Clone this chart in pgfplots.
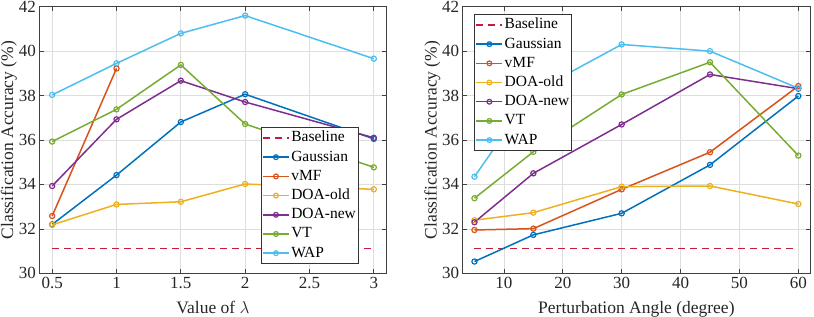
\documentclass[border=0pt]{standalone}
\usepackage{fontspec}
\setmainfont{Liberation Serif}
\usepackage{pgfplots}
\pgfplotsset{compat=1.18}
\definecolor{cB}{rgb}{0.76,0.11,0.24}
\definecolor{cG}{rgb}{0,0.447,0.741}
\definecolor{cV}{rgb}{0.85,0.325,0.098}
\definecolor{cO}{rgb}{0.929,0.694,0.125}
\definecolor{cN}{rgb}{0.494,0.184,0.556}
\definecolor{cT}{rgb}{0.466,0.674,0.188}
\definecolor{cW}{rgb}{0.301,0.745,0.933}
\pgfplotsset{mystyle/.style={
  scale only axis, width=347.4pt, height=266.6pt,
  ymin=30, ymax=42, ytick={30,32,...,42},
  grid=major, major grid style={black!13, line width=0.7pt},
  axis line style={black!75, line width=0.9pt},
  tick align=inside, tick style={black!75, line width=0.7pt}, major tick length=4.5pt,
  font=\fontsize{17}{20}\selectfont,
  tick label style={font=\fontsize{17}{20}\selectfont, text=black!85},
  label style={text=black!85, font=\fontsize{17.5}{20}\selectfont},
  /pgf/number format/assume math mode=true,
  ylabel={Classification Accuracy (\%)},
  ylabel style={at={(axis description cs:-0.0875,0.5)}, anchor=center},
  xlabel style={at={(axis description cs:0.5,-0.1515)}, anchor=base},
  every axis plot/.append style={line width=1.5pt, mark=o, mark size=2.6pt, mark options={solid, line width=1.2pt}},
  legend cell align=left,
  legend image code/.code={\draw[line width=1.5pt, mark size=2.4pt, mark repeat=2,mark phase=2,##1] plot coordinates {(0pt,0pt) (13pt,0pt) (26pt,0pt)};},
  legend style={draw=black!80, line width=0.9pt, fill=white, inner sep=1pt,
    font=\fontsize{15.5}{18}\selectfont,
    nodes={inner sep=1.6pt, text height=12pt, text depth=4pt}},
}}
\begin{document}
\begin{tikzpicture}
\useasboundingbox (0pt,0pt) rectangle (814pt,-316pt);
\begin{axis}[mystyle, at={(39.3pt,-273.3pt)}, anchor=south west,
  xmin=0.4, xmax=3.1, xtick={0.5,1,1.5,2,2.5,3},
  xticklabels={0.5,1,1.5,2,2.5,3},
  xlabel={Value of $\lambda$},
  legend style={at={(0.920,0.034)}, anchor=south east}]
\addplot[cB, line width=1.3pt, dash pattern=on 7pt off 5pt, mark=none] coordinates {(0.5,31.12) (3,31.12)};
\addplot[cG] coordinates {(0.5,32.2) (1,34.42) (1.5,36.81) (2,38.06) (3,36.05)};
\addplot[cV] coordinates {(0.5,32.58) (1,39.22)};
\addplot[cO] coordinates {(0.5,32.18) (1,33.1) (1.5,33.22) (2,34.02) (3,33.78)};
\addplot[cN] coordinates {(0.5,33.93) (1,36.93) (1.5,38.67) (2,37.71) (3,36.1)};
\addplot[cT] coordinates {(0.5,35.93) (1,37.38) (1.5,39.38) (2,36.72) (3,34.77)};
\addplot[cW] coordinates {(0.5,38.03) (1,39.45) (1.5,40.8) (2,41.6) (3,39.66)};
\legend{Baseline,Gaussian,vMF,DOA-old,DOA-new,VT,WAP}
\end{axis}
\begin{axis}[mystyle, at={(462.7pt,-273.3pt)}, anchor=south west,
  xmin=3, xmax=62, xtick={10,20,...,60},
  xlabel={Perturbation Angle (degree)},
  legend style={at={(0.033,0.973)}, anchor=north west}]
\addplot[cB, line width=1.3pt, dash pattern=on 7pt off 5pt, mark=none] coordinates {(5,31.12) (60,31.12)};
\addplot[cG] coordinates {(5,30.53) (15,31.73) (30,32.7) (45,34.88) (60,37.98)};
\addplot[cV] coordinates {(5,31.95) (15,32.01) (30,33.78) (45,35.45) (60,38.43)};
\addplot[cO] coordinates {(5,32.39) (15,32.73) (30,33.9) (45,33.93) (60,33.12)};
\addplot[cN] coordinates {(5,32.3) (15,34.5) (30,36.7) (45,38.95) (60,38.31)};
\addplot[cT] coordinates {(5,33.38) (15,35.47) (30,38.05) (45,39.5) (60,35.3)};
\addplot[cW] coordinates {(5,34.35) (15,38.15) (30,40.3) (45,40.0) (60,38.33)};
\legend{Baseline,Gaussian,vMF,DOA-old,DOA-new,VT,WAP}
\end{axis}
\end{tikzpicture}
\end{document}
